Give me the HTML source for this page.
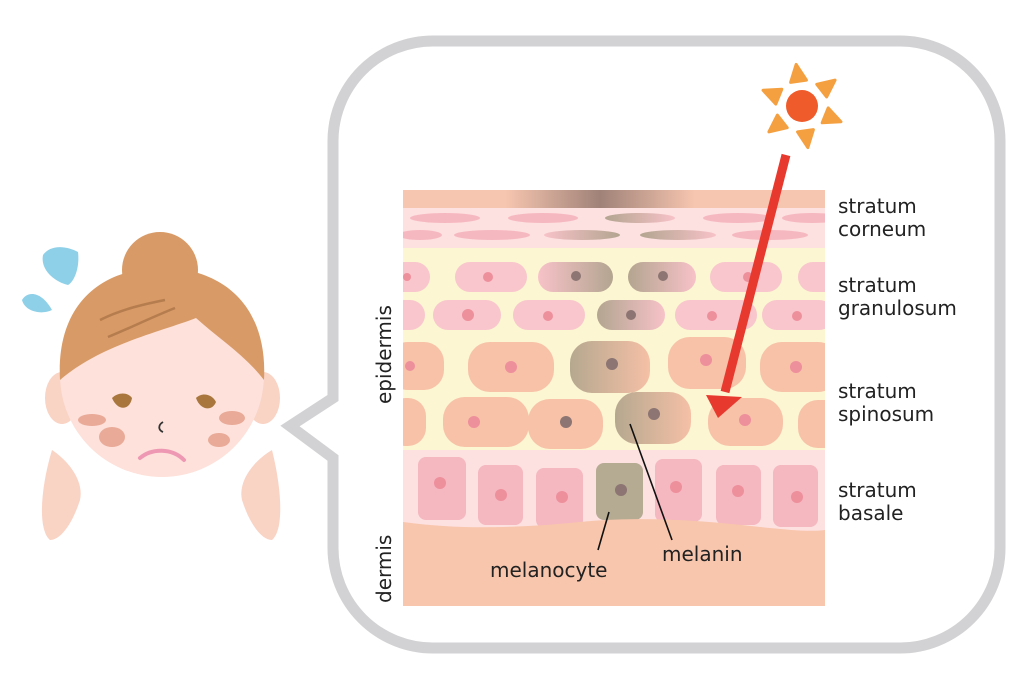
<!DOCTYPE html>
<html><head><meta charset="utf-8"><style>
html,body{margin:0;padding:0;background:#fff;width:1024px;height:698px;overflow:hidden}
text{font-family:"DejaVu Sans","Liberation Sans",sans-serif;fill:#222}
</style></head><body>
<svg width="1024" height="698" viewBox="0 0 1024 698" xmlns="http://www.w3.org/2000/svg">
<defs>
<linearGradient id="topg" x1="0" x2="1"><stop offset="0" stop-color="#f7c6b0"/><stop offset="0.5" stop-color="#a08278"/><stop offset="1" stop-color="#f7c6b0"/></linearGradient>
<linearGradient id="gL" x1="0" x2="1"><stop offset="0" stop-color="#f7c2c8"/><stop offset="1" stop-color="#b3a590"/></linearGradient>
<linearGradient id="gR" x1="0" x2="1"><stop offset="0" stop-color="#b3a590"/><stop offset="1" stop-color="#f7c2c8"/></linearGradient>
<linearGradient id="gRo" x1="0" x2="1"><stop offset="0" stop-color="#b5a88f"/><stop offset="1" stop-color="#f5c0a6"/></linearGradient>
<clipPath id="sk"><rect x="403" y="190" width="422" height="416"/></clipPath>
</defs>
<path d="M433,41 H900 A100,100 0 0 1 1000,141 V548 A100,100 0 0 1 900,648 H433 A100,100 0 0 1 333,548 V458 L290,426 L333,398 V141 A100,100 0 0 1 433,41 Z" fill="#fff" stroke="#d2d2d4" stroke-width="11"/>
<g clip-path="url(#sk)">
<rect x="403" y="190" width="422" height="416" fill="#fdf6d2"/>
<rect x="403" y="190" width="422" height="18" fill="#f7c6b0"/>
<rect x="505" y="190" width="190" height="18" fill="url(#topg)"/>
<rect x="403" y="208" width="422" height="40" fill="#fde0e0"/>
<g fill="#f6b8c0">
<ellipse cx="445" cy="218" rx="35" ry="5"/><ellipse cx="543" cy="218" rx="35" ry="5"/><ellipse cx="640" cy="218" fill="url(#gR)" rx="35" ry="5"/><ellipse cx="738" cy="218" rx="35" ry="5"/><ellipse cx="812" cy="218" rx="30" ry="5"/>
<ellipse cx="420" cy="235" rx="22" ry="5"/><ellipse cx="492" cy="235" rx="38" ry="5"/><ellipse cx="582" cy="235" fill="url(#gL)" rx="38" ry="5"/><ellipse cx="678" cy="235" fill="url(#gR)" rx="38" ry="5"/><ellipse cx="770" cy="235" rx="38" ry="5"/>
</g>
<g fill="#f8c6cc">
<rect x="390" y="262" width="40" height="30" rx="15"/><rect x="455" y="262" width="72" height="30" rx="15"/><rect x="538" y="262" width="75" height="30" rx="15" fill="url(#gL)"/><rect x="628" y="262" width="68" height="30" rx="15" fill="url(#gR)"/><rect x="710" y="262" width="72" height="30" rx="15"/><rect x="798" y="262" width="45" height="30" rx="15"/>
<rect x="390" y="300" width="35" height="30" rx="15"/><rect x="433" y="300" width="68" height="30" rx="15"/><rect x="513" y="300" width="72" height="30" rx="15"/><rect x="597" y="300" width="68" height="30" rx="15" fill="url(#gR)"/><rect x="675" y="300" width="82" height="30" rx="15"/><rect x="762" y="300" width="72" height="30" rx="15"/>
</g>
<g fill="#ee8f9c"><circle cx="407" cy="277" r="4"/><circle cx="488" cy="277" r="5"/><circle cx="748" cy="277" r="5"/><circle cx="468" cy="315" r="6"/><circle cx="548" cy="316" r="5"/><circle cx="712" cy="316" r="5"/><circle cx="797" cy="316" r="5"/></g>
<g fill="#8c7572"><circle cx="576" cy="276" r="5"/><circle cx="663" cy="276" r="5"/><circle cx="631" cy="315" r="5"/></g>
<g fill="#f7c2a8">
<rect x="388" y="342" width="56" height="48" rx="20"/><rect x="468" y="342" width="86" height="50" rx="22"/><rect x="570" y="341" width="80" height="52" rx="22" fill="url(#gRo)"/><rect x="668" y="337" width="78" height="52" rx="22"/><rect x="760" y="342" width="80" height="50" rx="22"/>
<rect x="388" y="398" width="38" height="48" rx="18"/><rect x="443" y="397" width="86" height="50" rx="22"/><rect x="528" y="399" width="75" height="50" rx="22"/><rect x="615" y="392" width="76" height="52" rx="22" fill="url(#gRo)"/><rect x="708" y="398" width="75" height="48" rx="22"/><rect x="798" y="400" width="50" height="48" rx="20"/>
</g>
<g fill="#ee8f9c"><circle cx="410" cy="366" r="5"/><circle cx="511" cy="367" r="6"/><circle cx="706" cy="360" r="6"/><circle cx="796" cy="367" r="6"/><circle cx="474" cy="422" r="6"/><circle cx="745" cy="420" r="6"/></g>
<g fill="#8c7572"><circle cx="612" cy="364" r="6"/><circle cx="566" cy="422" r="6"/><circle cx="654" cy="414" r="6"/></g>
<path d="M403,450 H825 V535 H403 Z" fill="#fde0e0"/>
<g fill="#f5b7c0">
<rect x="418" y="457" width="48" height="63" rx="8"/><rect x="478" y="465" width="45" height="60" rx="8"/><rect x="536" y="468" width="47" height="60" rx="8"/><rect x="655" y="459" width="47" height="63" rx="8"/><rect x="716" y="465" width="45" height="60" rx="8"/><rect x="773" y="465" width="45" height="62" rx="8"/>
</g>
<rect x="596" y="463" width="47" height="57" rx="8" fill="#b5aa92"/>
<g fill="#ee8f9c"><circle cx="440" cy="483" r="6"/><circle cx="501" cy="495" r="6"/><circle cx="562" cy="497" r="6"/><circle cx="676" cy="487" r="6"/><circle cx="738" cy="491" r="6"/><circle cx="797" cy="497" r="6"/></g>
<circle cx="621" cy="490" r="6" fill="#8c7572"/>
<path d="M403,522 C460,530 520,528 580,522 C640,516 700,520 760,527 C790,530 810,532 825,530 V606 H403 Z" fill="#f8c6ac"/>
</g>
<line x1="609" y1="512" x2="598" y2="550" stroke="#111" stroke-width="1.6"/>
<line x1="630" y1="424" x2="672" y2="540" stroke="#111" stroke-width="1.6"/>
<text x="490" y="577" font-size="20">melanocyte</text>
<text x="662" y="561" font-size="20">melanin</text>
<line x1="786" y1="155" x2="725" y2="392" stroke="#e8392f" stroke-width="9"/>
<polygon points="706,395 742,397 718,418" fill="#e8392f"/>
<g fill="#f5a040" stroke="#f5a040" stroke-width="3" stroke-linejoin="round">
<polygon points="802,64 810,81 794,81" transform="rotate(-8 802 106)"/>
<polygon points="802,64 810,81 794,81" transform="rotate(52 802 106)"/>
<polygon points="802,64 810,81 794,81" transform="rotate(112 802 106)"/>
<polygon points="802,64 810,81 794,81" transform="rotate(172 802 106)"/>
<polygon points="802,64 810,81 794,81" transform="rotate(232 802 106)"/>
<polygon points="802,64 810,81 794,81" transform="rotate(292 802 106)"/>
</g>
<circle cx="802" cy="106" r="16" fill="#ef5b2b"/>
<g font-size="20">
<text x="838" y="213">stratum</text><text x="838" y="236">corneum</text>
<text x="838" y="292">stratum</text><text x="838" y="315">granulosum</text>
<text x="838" y="398">stratum</text><text x="838" y="421">spinosum</text>
<text x="838" y="497">stratum</text><text x="838" y="520">basale</text>
<text transform="translate(391,404) rotate(-90)">epidermis</text>
<text transform="translate(391,603) rotate(-90)">dermis</text>
</g>
<ellipse cx="62" cy="398" rx="17" ry="26" fill="#f9d3c4"/>
<ellipse cx="263" cy="398" rx="17" ry="26" fill="#f9d3c4"/>
<circle cx="162" cy="375" r="102" fill="#fde1da"/>
<circle cx="160" cy="270" r="38" fill="#d89a66"/>
<path d="M60,380 C56,305 100,268 162,268 C222,268 268,305 264,380 C245,355 218,338 196,318 C160,332 100,345 60,380 Z" fill="#d89a66"/>
<path d="M100,320 C120,310 140,305 165,300 M108,337 C130,328 150,318 175,308" stroke="#b57c4e" stroke-width="2.5" fill="none"/>
<path d="M52,450 C70,462 84,482 80,500 C72,525 60,540 50,540 C38,530 40,490 52,450 Z" fill="#f9d3c4"/>
<path d="M272,450 C252,462 238,482 242,500 C250,525 262,540 272,540 C284,530 282,490 272,450 Z" fill="#f9d3c4"/>
<path d="M112,398 C118,392 128,392 132,398 C130,410 118,412 112,398 Z" fill="#a9773e"/>
<path d="M196,398 C202,392 212,394 216,402 C212,412 200,410 196,398 Z" fill="#a9773e"/>
<ellipse cx="92" cy="420" rx="14" ry="6" fill="#e9aa98"/>
<ellipse cx="112" cy="437" rx="13" ry="10" fill="#e9aa98"/>
<ellipse cx="232" cy="418" rx="13" ry="7" fill="#e9aa98"/>
<ellipse cx="219" cy="440" rx="11" ry="7" fill="#e9aa98"/>
<path d="M163,422 C158,425 158,430 163,432" stroke="#333" stroke-width="1.8" fill="none"/>
<path d="M140,458 C152,448 172,448 184,460" stroke="#ee98b4" stroke-width="4" fill="none" stroke-linecap="round"/>
<path d="M43,255 C50,245 65,245 78,252 C80,268 74,282 68,285 C55,282 40,270 43,255 Z" fill="#8ed0e8"/>
<path d="M22,300 C28,290 42,292 52,310 C42,315 25,312 22,300 Z" fill="#8ed0e8"/>
</svg>
</body></html>
